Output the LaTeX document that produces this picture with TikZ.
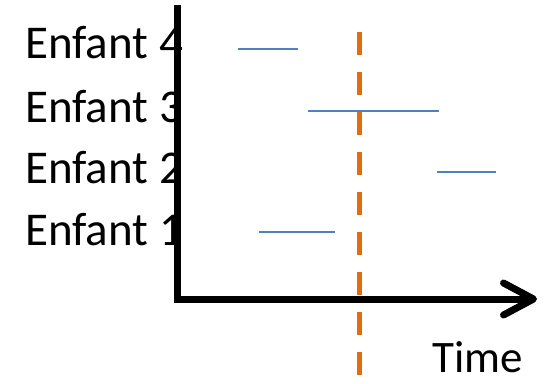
\documentclass[tikz,border=0pt]{standalone}
\usepackage{fontspec}
\setmainfont{Carlito}
\usetikzlibrary{arrows.meta}
\definecolor{barblue}{RGB}{79,129,189}
\definecolor{cutorange}{RGB}{228,108,10}

\begin{document}
\begin{tikzpicture}
  [
    x=1pt, y=-1pt,
    label/.style = {anchor=base west, inner sep=0pt, font=\fontsize{47}{56}\selectfont},
    axis/.style  = {line width=7pt, black},
    span/.style  = {line width=1.8pt, barblue},
    cut/.style   = {line width=5.5pt, cutorange, dash pattern=on 23pt off 17pt},
  ]
\useasboundingbox (0,0) rectangle (546,383);

%Position of the axes
\def \xaxis{177.5}
\def \yaxis{299}

%Labels of the children, from bottom to top
\foreach [count=\i] \yb in {245,183,122,58}
{
\node[label] (enfant\i) at (25,\yb) {Enfant \i};
}

%Time span of each child
\foreach [count=\i] \xa/\xb/\yy in {259/335/232, 437/496/172, 308/439/111, 238/298/49}
{
\coordinate (s\i) at (\xa,\yy);
\coordinate (e\i) at (\xb,\yy);
\draw[span] (s\i) -- (e\i);
}

%Dashed cut line
\coordinate (cuttop) at (359.5,31.7);
\coordinate (cutbot) at (359.5,383);
\draw[cut] (cuttop) -- (cutbot);

%Axes
\coordinate (top) at (\xaxis,5);
\coordinate (origin) at (\xaxis,\yaxis);
\coordinate (corner) at (\xaxis-3.5,\yaxis);
\coordinate (tip) at (537,\yaxis);
\draw[axis] (top) -- (\xaxis,\yaxis+3.5);
\draw[axis, -{Straight Barb[length=30pt,width=32pt,line cap=round,line join=round]}] (corner) -- (tip);

\node[label, font=\fontsize{45}{54}\selectfont] (time) at (432,372) {Time};
\end{tikzpicture}
\end{document}
